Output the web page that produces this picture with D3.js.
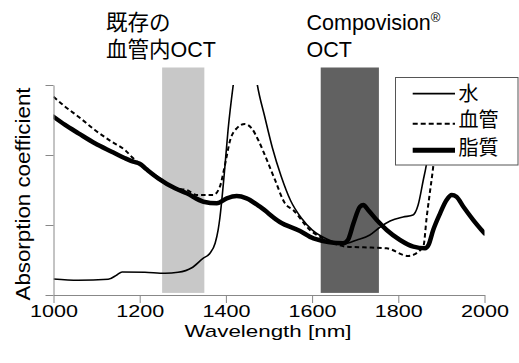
<!DOCTYPE html>
<html>
<head>
<meta charset="utf-8">
<script src="https://cdn.jsdelivr.net/npm/d3@7"></script>
<style>
  html, body { margin: 0; padding: 0; background: #fff; }
  svg { display: block; }
  text { font-family: "Liberation Sans", Arial, "Noto Sans CJK JP", sans-serif; fill: #000; }
</style>
</head>
<body>
<svg id="chart" width="519" height="363"></svg>
<script>
// ---------- data ----------
const xTickValues = [1000, 1200, 1400, 1600, 1800, 2000];
const yTickValues = [0, 1, 2, 3];
const seriesNames = ["水", "血管", "脂質"];

const waterWl = [1000, 1057, 1127, 1147, 1159, 1212, 1259, 1289, 1321, 1347, 1363, 1375, 1382, 1386, 1396, 1405, 1417, 1430, 1445, 1460, 1473, 1490, 1508, 1528, 1550, 1575, 1600, 1634, 1672, 1704, 1734, 1758, 1781, 1811, 1834, 1846, 1858, 1865, 1880, 1900];
const waterAbs = [0.229, 0.21, 0.224, 0.286, 0.329, 0.324, 0.31, 0.324, 0.39, 0.524, 0.596, 0.739, 0.929, 1.1, 1.714, 2.357, 3.0, 3.55, 3.8, 3.55, 3.0, 2.55, 2.1, 1.7, 1.35, 1.1, 0.93, 0.8, 0.729, 0.786, 0.857, 0.971, 1.057, 1.114, 1.143, 1.286, 1.643, 1.857, 2.6, 3.5];

const bloodWl = [1000, 1027, 1058, 1096, 1135, 1166, 1185, 1212, 1247, 1282, 1309, 1332, 1355, 1371, 1386, 1397, 1410, 1425, 1444, 1460, 1475, 1495, 1514, 1537, 1556, 1595, 1634, 1680, 1719, 1773, 1823, 1858, 1866, 1873, 1881, 1890, 1905];
const bloodAbs = [2.833, 2.69, 2.547, 2.357, 2.19, 2.07, 1.953, 1.81, 1.667, 1.524, 1.5, 1.43, 1.43, 1.43, 1.547, 1.833, 2.214, 2.38, 2.443, 2.38, 2.214, 1.93, 1.643, 1.31, 1.214, 0.929, 0.786, 0.69, 0.681, 0.667, 0.557, 0.69, 1.119, 1.453, 1.833, 2.4, 3.4];

const lipidWl = [1000, 1027, 1058, 1096, 1135, 1166, 1185, 1200, 1215, 1243, 1282, 1309, 1348, 1379, 1402, 1425, 1448, 1479, 1525, 1572, 1603, 1672, 1683, 1696, 1711, 1719, 1730, 1750, 1773, 1804, 1835, 1862, 1870, 1881, 1897, 1912, 1924, 1935, 1951, 1974, 2000];
const lipidAbs = [2.547, 2.43, 2.31, 2.167, 2.047, 1.953, 1.904, 1.875, 1.8, 1.667, 1.524, 1.453, 1.333, 1.31, 1.381, 1.414, 1.381, 1.261, 1.043, 0.914, 0.81, 0.739, 0.786, 1.024, 1.261, 1.286, 1.214, 1.071, 0.929, 0.786, 0.69, 0.667, 0.714, 0.929, 1.167, 1.357, 1.429, 1.404, 1.261, 1.071, 0.88];

const bandStart = [1252, 1620];
const bandEnd = [1350, 1755];
const bandLines1 = ["既存の", "Compovision"];
const bandLines2 = ["血管内OCT", "OCT"];

// ---------- layout ----------
const svg = d3.select("#chart");
const x = d3.scaleLinear().domain([1000, 2000]).range([53.5, 484.5]);
const y = d3.scaleLinear().domain([0, 3]).range([295, 85]);
const axisColor = "#888";

// bands
const bandColors = ["#c8c8c8", "#616161"];
svg.append("g").selectAll("rect").data(bandStart).join("rect")
  .attr("x", (d, i) => x(bandStart[i]))
  .attr("width", (d, i) => x(bandEnd[i]) - x(bandStart[i]))
  .attr("y", y(3.25))
  .attr("height", y(0.03) - y(3.25))
  .attr("fill", (d, i) => bandColors[i]);

// band labels
const labelX = [106, 306.5];
const lab = svg.append("g").attr("font-size", 21.5);
bandLines1.forEach((t, i) => {
  const tx = lab.append("text").attr("x", labelX[i]).attr("y", 30).text(t);
  if (i === 1) tx.append("tspan").attr("font-size", 13).attr("dy", -8).text("®");
  lab.append("text").attr("x", labelX[i]).attr("y", 56.5).text(bandLines2[i]);
});

// clip for curves
svg.append("clipPath").attr("id", "plotclip").append("rect")
  .attr("x", 53.5).attr("y", 85).attr("width", 431).attr("height", 215);

const mk = (wl, ab) => wl.map((w, i) => [w, ab[i]]);
const gen = d3.line().x(d => x(d[0])).y(d => y(d[1])).curve(d3.curveMonotoneX);

const curves = svg.append("g").attr("clip-path", "url(#plotclip)").attr("fill", "none")
  .attr("stroke", "#000").attr("stroke-linejoin", "round");
curves.append("path").attr("d", gen(mk(bloodWl, bloodAbs)))
  .attr("stroke-width", 2).attr("stroke-dasharray", "4.5,3");
curves.append("path").attr("d", gen(mk(waterWl, waterAbs)))
  .attr("stroke-width", 1.6);
curves.append("path").attr("d", gen(mk(lipidWl, lipidAbs)))
  .attr("stroke-width", 4.5).attr("stroke-linecap", "round");

// axes
const xAxis = svg.append("g").attr("transform", "translate(0,295)")
  .call(d3.axisBottom(x).tickValues(xTickValues).tickSize(8).tickSizeOuter(0).tickFormat(d3.format("d")));
xAxis.select(".domain").attr("stroke", axisColor);
xAxis.selectAll(".tick line").attr("stroke", axisColor);
xAxis.selectAll(".tick text").attr("font-size", 17).attr("font-family", "Liberation Sans, Arial, sans-serif")
  .attr("fill", "#000").attr("y", 21.5).attr("dy", null)
  .attr("textLength", 48).attr("lengthAdjust", "spacingAndGlyphs");

const yAxis = svg.append("g").attr("transform", "translate(53.5,0)")
  .call(d3.axisLeft(y).tickValues(yTickValues).tickSize(8).tickSizeOuter(0).tickFormat(""));
yAxis.select(".domain").attr("stroke", axisColor);
yAxis.selectAll(".tick line").attr("stroke", axisColor);

// axis titles
svg.append("text").attr("x", 268).attr("y", 336.5).attr("text-anchor", "middle")
  .attr("font-size", 17).attr("textLength", 167).attr("lengthAdjust", "spacingAndGlyphs")
  .text("Wavelength [nm]");
svg.append("text").attr("transform", "translate(30,194) rotate(-90)").attr("text-anchor", "middle")
  .attr("font-size", 20.5).attr("textLength", 213).attr("lengthAdjust", "spacingAndGlyphs")
  .text("Absorption coefficient");

// legend
const lg = svg.append("g");
lg.append("rect").attr("x", 395.5).attr("y", 77.5).attr("width", 122.5).attr("height", 87.5)
  .attr("fill", "#fff").attr("stroke", "#555").attr("stroke-width", 1);
const legY = [93.7, 123.7, 150.3];
const legTextY = [93.5, 120, 148.3];
const legW = [1.8, 2, 5];
const legDash = [null, "5,3", null];
seriesNames.forEach((n, i) => {
  lg.append("line").attr("x1", 412.7).attr("x2", 455).attr("y1", legY[i]).attr("y2", legY[i])
    .attr("stroke", "#000").attr("stroke-width", legW[i]).attr("stroke-dasharray", legDash[i]);
  lg.append("text").attr("x", 458.5).attr("y", legTextY[i]).attr("dominant-baseline", "central")
    .attr("font-size", 20).attr("font-family", "Noto Sans CJK JP, sans-serif").text(n);
});
</script>
</body>
</html>
